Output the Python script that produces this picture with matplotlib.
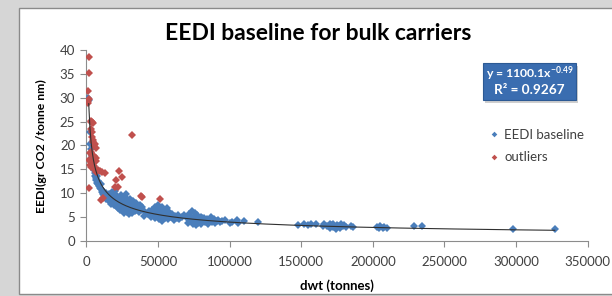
import matplotlib
matplotlib.use("Agg")
import matplotlib.pyplot as plt
import numpy as np
from matplotlib.patches import Rectangle

plt.rcParams['font.family'] = ['Lato', 'DejaVu Sans']
plt.rcParams['mathtext.fontset'] = 'custom'
plt.rcParams['mathtext.rm'] = 'Lato:bold'
plt.rcParams['mathtext.it'] = 'Lato:bold'
plt.rcParams['mathtext.bf'] = 'Lato:bold'

# ---- data (dwt in thousands of tonnes, EEDI) ----
blue_x_k = [1.5, 1.8, 2.5, 2.8, 3.2, 3.5, 4, 4.5, 5, 5.3, 5.6, 6, 6.3, 6.8, 7, 7.5, 7.8, 8, 8.5, 9, 9.5, 10, 10.5, 11, 11.5, 12, 12.5, 13, 13.5, 14,
            15, 15.5, 16, 16.5, 17, 17.5, 18, 18.5, 19, 19.5, 20, 20, 20.5, 21, 21.5, 22, 22, 22.5, 23, 23.5, 24, 24, 24.5, 25, 25.5, 26, 26, 26.5, 27, 27.5, 28, 28, 28.5, 29, 29.5, 30, 30, 30.5, 31, 31.5, 32, 32, 32.5, 33, 33.5, 34, 34.5, 35, 35, 36, 36.5, 37, 37.5, 38, 39, 40, 40.5,
            16, 18, 21, 23, 25, 27, 29, 31, 33, 35, 19, 22, 26, 30, 34, 24, 28, 32,
            43, 44, 45, 46, 47, 48, 48, 49, 50, 50, 51, 51.5, 52, 52.5, 53, 53.5, 54, 55, 55.5, 56, 57, 57.5, 58, 59, 60, 61, 62, 63, 64, 65, 67, 68,
            49, 52, 54, 56, 58, 51, 55,
            70, 71, 72, 73, 74, 74.5, 75, 75.5, 76, 76.5, 77, 77.5, 78, 79, 80, 80, 81, 82, 83, 84, 85, 86, 87, 88, 89, 90, 91, 92, 93, 95, 97, 100, 102, 105, 106, 110, 120,
            73, 76, 78, 81, 84, 87,
            148, 152, 155, 157, 160, 165, 166, 168, 170, 170, 171, 172, 172, 173, 174, 175, 175, 176, 177, 178, 179, 180, 181, 185, 186, 203, 204, 205, 207, 208, 210, 229, 234, 298, 327]
blue_y = [30.0, 29.5, 22.8, 20.3, 19.2, 18.5, 17.8, 17, 16.2, 15.5, 14.8, 14.2, 13.6, 13.2, 12.8, 13.5, 12.2, 11.8, 12.5, 11.5, 11, 10.8, 11.8, 10.2, 9.8, 10.5, 9.5, 9.2, 10, 8.8,
          9.5, 8.5, 9.8, 8.2, 9, 7.8, 10.2, 8.6, 7.5, 9.3, 10.5, 8, 7.2, 9.6, 8.4, 6.8, 7.6, 9, 8.1, 6.4, 7.4, 9.5, 8.7, 6.9, 7.9, 5.8, 8.5, 7.2, 9.2, 6.5, 7.7, 9.8, 6.1, 8.2, 7.0, 5.6, 7.5, 8.8, 6.6, 7.9, 7.2, 5.9, 8.4, 6.8, 7.6, 6.3, 7.1, 6.5, 8, 7.3, 6.1, 6.9, 7.5, 6.4, 7, 6.2, 5.2,
          8.9, 9.1, 8.0, 8.8, 7.6, 8.3, 7.4, 7.3, 7.9, 7.0, 8.3, 8.4, 7.6, 6.9, 7.2, 7.9, 8.5, 6.6,
          5.5, 6.2, 5, 6.5, 5.8, 4.8, 7.1, 6, 5.3, 7.4, 4.6, 6.6, 5.8, 4.2, 7, 5.1, 6.2, 4.8, 5.6, 6.8, 4.5, 5.4, 6, 4.9, 5.6, 4.3, 5.1, 4.7, 5.3, 4.6, 4.9, 5.3,
          5.6, 5.2, 5.5, 5.1, 4.9, 6.0, 6.1,
          4.8, 3.8, 5.5, 4.3, 6.3, 3.5, 5, 4.1, 5.8, 3.2, 4.6, 5.3, 3.7, 4.4, 5, 3.4, 4.2, 4.8, 3.9, 4.5, 3.6, 4.3, 5, 4, 4.6, 3.8, 4.2, 4.4, 3.9, 4.1, 4.3, 3.8, 4, 4.4, 3.7, 4.1, 4,
          5.0, 4.6, 4.2, 4.7, 4.1, 4.4,
          3.3, 3.4, 3.3, 3.5, 3.4, 3.1, 3.4, 3.0, 2.6, 3.5, 3.2, 2.8, 3.6, 3.0, 2.5, 3.3, 2.9, 3.1, 2.7, 3.4, 3.0, 3.2, 2.8, 3.0, 2.9, 2.8, 2.6, 3.0, 2.7, 2.8, 2.7, 3.0, 3.1, 2.4, 2.5]

red_x_k = [1.9, 1.8, 1.3, 1.6, 1.2, 1.0, 3, 3.5, 4, 4.5, 3.6, 4.2, 3.8, 5, 4.4, 6, 5.5, 6.5, 3, 2.5, 4, 5.5, 7, 6.5, 2.2, 3.2, 4.8, 2.8, 3.5, 4.5, 5.2, 6, 7, 8, 9.5, 11, 13,
           2.0, 32, 23, 25, 20.5, 20, 22, 10.5, 11.5, 38, 38.7, 51.5]
red_y = [38.6, 35.1, 31.4, 29.7, 29.3, 28.8, 25.2, 25, 24.9, 24.6, 23.5, 22.8, 21.8, 21.2, 20.8, 20.3, 19.8, 19.5, 18.6, 18.3, 18, 17.8, 17.3, 16.8, 17, 16.5, 16.2, 15.8, 15.4, 15.2, 15.6, 15.1, 14.5, 14.8, 14.6, 14.5, 14.3,
         11.0, 22.1, 14.7, 13.3, 12.7, 11.3, 11.2, 8.6, 8.9, 9.4, 9.1, 8.7]

fit_a = 1100.1
fit_b = -0.49
x_ticks = [0, 50000, 100000, 150000, 200000, 250000, 300000, 350000]
y_ticks = [0, 5, 10, 15, 20, 25, 30, 35, 40]

blue_x = np.array(blue_x_k) * 1000
red_x = np.array(red_x_k) * 1000

W, H = 612, 296
fig = plt.figure(figsize=(W / 100, H / 100), dpi=100, facecolor='#d6d6d6')

# white chart panel
panel = Rectangle((19 / W, 1 - 294 / H), (W + 5 - 19) / W, (294 - 8) / H,
                  transform=fig.transFigure, facecolor='white', edgecolor='#8a8a8a',
                  linewidth=1.0, zorder=-10)
fig.patches.append(panel)

ax = fig.add_axes([86.3 / W, 1 - 240.7 / H, (587.7 - 86.3) / W, (240.7 - 50) / H])
ax.set_facecolor('none')
ax.set_zorder(1)

blue_c = '#4a7ebb'
red_c = '#c0504d'
ax.plot(blue_x, blue_y, 'D', color=blue_c, markersize=3.8, markeredgewidth=0, label='EEDI baseline', zorder=3)
ax.plot(red_x, red_y, 'D', color=red_c, markersize=3.8, markeredgewidth=0, label='outliers', zorder=3)

xs = np.linspace(min(blue_x.min(), red_x.min()) + 700, blue_x.max(), 400)
ax.plot(xs, fit_a * xs ** fit_b, color='#303030', linewidth=0.8, zorder=4)

ax.set_xlim(0, 350000)
ax.set_ylim(0, 40)
ax.set_xticks(x_ticks)
ax.set_xticklabels([str(t) for t in x_ticks])
ax.set_yticks(y_ticks)
for s in ['top', 'right']:
    ax.spines[s].set_visible(False)
for s in ['left', 'bottom']:
    ax.spines[s].set_color('#8c8c8c')
    ax.spines[s].set_linewidth(0.8)
ax.tick_params(axis='both', direction='out', length=4, width=0.8, color='#8c8c8c',
               labelsize=9.5, labelcolor='#404040')
ax.tick_params(axis='x', pad=7)
ax.tick_params(axis='y', pad=4)

fig.text(318 / W, 1 - 33 / H, 'EEDI baseline for bulk carriers', ha='center', va='center',
         fontsize=16.5, fontweight='bold', color='black')
fig.text(41 / W, 1 - 146 / H, 'EEDI(gr CO2 /tonne nm)', ha='center', va='center',
         rotation=90, fontsize=8.8, fontweight='bold', color='black')
fig.text(337 / W, 1 - 286 / H, 'dwt (tonnes)', ha='center', va='center',
         fontsize=9.5, fontweight='bold', color='black')

leg = ax.legend(loc='upper left', bbox_to_anchor=(478 / W, 1 - 117 / H), bbox_transform=fig.transFigure,
                frameon=False, fontsize=9.5, handlelength=0.6, handletextpad=0.5, labelspacing=0.8,
                markerscale=0.75)
for t in leg.get_texts():
    t.set_color('#404040')

# equation box (drawn in figure, above axes)
bx0, by0, bx1, by1 = 483, 63, 576, 100
shadow = Rectangle(((bx0 + 2) / W, 1 - (by1 + 3) / H), (bx1 - bx0) / W, (by1 - by0) / H,
                   transform=fig.transFigure, facecolor='#b0b0b0', edgecolor='none', alpha=0.6, zorder=5)
fig.patches.append(shadow)
box = Rectangle((bx0 / W, 1 - by1 / H), (bx1 - bx0) / W, (by1 - by0) / H,
                transform=fig.transFigure, facecolor='#3a6db0', edgecolor='#2c5a94', linewidth=0.8, zorder=6)
fig.patches.append(box)
fig.text((bx0 + bx1) / 2 / W, 1 - 74 / H, r'y = 1100.1x$^{\mathregular{-0.49}}$', ha='center', va='center',
         fontsize=8.8, fontweight='bold', color='white', zorder=7)
fig.text((bx0 + bx1) / 2 / W, 1 - 90 / H, 'R² = 0.9267', ha='center', va='center',
         fontsize=9.8, fontweight='bold', color='white', zorder=7)

fig.savefig('out.png', dpi=100, facecolor=fig.get_facecolor())
